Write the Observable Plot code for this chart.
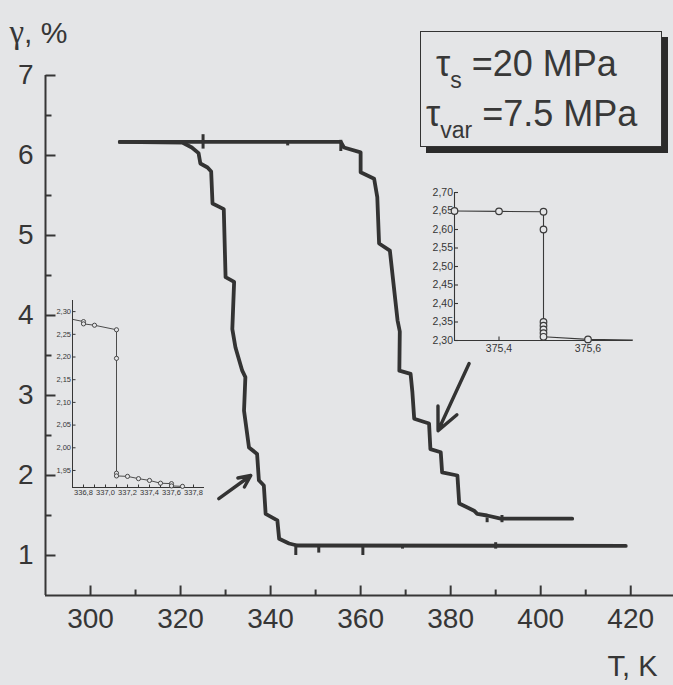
<!DOCTYPE html>
<html><head><meta charset="utf-8">
<script src="https://cdn.jsdelivr.net/npm/d3@7"></script>
<script src="https://cdn.jsdelivr.net/npm/@observablehq/plot@0.6"></script>
<style>
html,body{margin:0;padding:0;background:#e4e5e7;}
#wrap{position:relative;width:673px;height:685px;overflow:hidden;background:#e4e5e7;}
#wrap svg{position:absolute;left:0;top:0;}
.legend{position:absolute;left:420px;top:31px;width:242px;height:116px;box-sizing:border-box;border:1.5px solid #333;box-shadow:6px 6px 0 #2b2b2b;font-family:"Liberation Sans",Arial,sans-serif;color:#383838;background:#e4e5e7;}
.legend .l{position:absolute;white-space:nowrap;font-size:36px;line-height:1;}
.legend sub{font-size:23px;vertical-align:baseline;position:relative;top:12px;}
</style></head><body><div id="wrap"></div>
<script>
const ink = "#363636";

// main axes ticks
const xMajor = [300, 320, 340, 360, 380, 400, 420];
const xMinor = [310, 330, 350, 370, 390, 410];
const yMajor = [1, 2, 3, 4, 5, 6, 7];
const yMinor = [1.5, 2.5, 3.5, 4.5, 5.5, 6.5];

// curve 1 (lower-temperature transition)
const lowT = [306.5, 320.5, 322.5, 324.0, 324.4, 326.0, 326.8, 327.1, 329.6, 330.0, 331.9, 331.5, 332.2, 333.7, 334.4, 334.1, 335.2, 337.0, 337.4, 338.5, 338.9, 341.5, 341.9, 344.1, 345.9, 418.9];
const lowG = [6.17, 6.16, 6.10, 6.03, 5.90, 5.85, 5.80, 5.40, 5.33, 4.48, 4.42, 3.83, 3.60, 3.31, 3.23, 2.81, 2.35, 2.27, 1.94, 1.875, 1.52, 1.44, 1.21, 1.15, 1.125, 1.12];

// curve 2 (higher-temperature transition)
const highT = [306.5, 355.6, 356.3, 360.0, 360.0, 363.0, 363.7, 364.1, 366.5, 367.2, 368.2, 368.7, 368.6, 371.1, 371.5, 371.9, 375.2, 375.5, 377.8, 378.1, 381.5, 381.9, 385.2, 385.9, 388.1, 391.1, 407.0];
const highG = [6.17, 6.17, 6.10, 6.04, 5.79, 5.71, 5.48, 4.90, 4.81, 4.45, 3.94, 3.80, 3.31, 3.27, 3.04, 2.71, 2.65, 2.33, 2.29, 2.04, 2.00, 1.65, 1.56, 1.52, 1.50, 1.46, 1.46];

// small spikes on the traces
const glitchT  = [325.0, 343.8, 355.6, 345.6, 350.7, 360.5, 369.3, 390.0, 388.1, 391.4];
const glitchLo = [6.08, 6.12, 6.05, 1.00, 1.03, 1.00, 1.08, 1.08, 1.41, 1.41];
const glitchHi = [6.26, 6.18, 6.19, 1.14, 1.13, 1.13, 1.13, 1.16, 1.47, 1.50];

// arrows pointing at the zoomed jumps
const arrowT1 = [328.5, 384.1];
const arrowG1 = [1.71, 3.40];
const arrowT2 = [335.6, 377.2];
const arrowG2 = [2.00, 2.56];

// left inset (around 337 K)
const liT = [336.7, 336.8, 336.8, 336.9, 337.1, 337.1, 337.1, 337.1, 337.2, 337.3, 337.4, 337.5, 337.6, 337.6, 337.7];
const liG = [2.283, 2.278, 2.273, 2.270, 2.260, 2.197, 1.944, 1.938, 1.937, 1.932, 1.928, 1.922, 1.921, 1.916, 1.915];
const liXTicks = [336.8, 336.9, 337.0, 337.1, 337.2, 337.3, 337.4, 337.5, 337.6, 337.7, 337.8];
const liXLabels = [336.8, 337.0, 337.2, 337.4, 337.6, 337.8];
const liYTicks = [1.95, 2.00, 2.05, 2.10, 2.15, 2.20, 2.25, 2.30];

// right inset (around 375.5 K)
const riT = [375.3, 375.4, 375.5, 375.5, 375.5, 375.5, 375.5, 375.5, 375.5, 375.6, 375.7];
const riG = [2.650, 2.649, 2.648, 2.600, 2.350, 2.340, 2.330, 2.320, 2.310, 2.303, 2.301];
const riXTicks = [375.4, 375.6];
const riYTicks = [2.30, 2.35, 2.40, 2.45, 2.50, 2.55, 2.60, 2.65, 2.70];

const zip = (T, G) => T.map((t, i) => ({T: t, g: G[i]}));
const curve1 = zip(lowT, lowG);
const curve2 = zip(highT, highG);
const glitches = glitchT.map((t, i) => ({T: t, lo: glitchLo[i], hi: glitchHi[i]}));
const arrows = arrowT1.map((t, i) => ({x1: t, y1: arrowG1[i], x2: arrowT2[i], y2: arrowG2[i]}));
const leftInset = zip(liT, liG);
const rightInset = zip(riT, riG);
const comma = f => d => d3.format(f)(d).replace(".", ",");
const font = "Liberation Sans, Arial, sans-serif";
const W = 673, H = 685;

// inward tick marks of a given pixel length, converted to the data units of each panel
function inwardTicks(cfg, xs, ys, lenX, lenY, sw) {
  const fw = W - cfg.l - cfg.r, fh = H - cfg.t - cfg.b;
  const [x0, x1] = cfg.x, [y0, y1] = cfg.y;
  const dy = lenX * (y1 - y0) / fh;
  const dx = lenY * (x1 - x0) / fw;
  const xt = xs.map(v => ({a: v, b: v, c: y0, d: y0 + dy}));
  const yt = ys.map(v => ({a: x0, b: x0 + dx, c: v, d: v}));
  return Plot.link(xt.concat(yt), {x1: "a", x2: "b", y1: "c", y2: "d", stroke: ink, strokeWidth: sw, strokeLinecap: "butt"});
}
function frameOpts(cfg) {
  return {
    width: W, height: H,
    marginLeft: cfg.l, marginRight: cfg.r, marginTop: cfg.t, marginBottom: cfg.b,
    x: {domain: cfg.x}, y: {domain: cfg.y},
    style: {background: "transparent", fontFamily: font, color: ink, overflow: "visible"}
  };
}

const mainCfg = {l: 45, r: 0, t: 75, b: 90, x: [290, 429.5], y: [0.5, 7]};
const main = Plot.plot({
  ...frameOpts(mainCfg),
  marks: [
    Plot.ruleX([mainCfg.x[0]], {stroke: ink, strokeWidth: 2}),
    Plot.ruleY([mainCfg.y[0]], {stroke: ink, strokeWidth: 2}),
    inwardTicks(mainCfg, xMajor, yMajor, 10, 10, 2),
    inwardTicks(mainCfg, xMinor, yMinor, 6, 6, 2),
    Plot.axisX({ticks: xMajor, tickSize: 0, tickPadding: 13, fontSize: 28, fill: ink, tickFormat: d => String(d), label: null}),
    Plot.axisY({ticks: yMajor, tickSize: 0, tickPadding: 12, fontSize: 28, fill: ink, tickFormat: d => String(d), label: null}),
    Plot.line(curve1, {x: "T", y: "g", stroke: "#333", strokeWidth: 3.8, strokeLinejoin: "round", strokeLinecap: "round"}),
    Plot.line(curve2, {x: "T", y: "g", stroke: "#333", strokeWidth: 3.8, strokeLinejoin: "round", strokeLinecap: "round"}),
    Plot.ruleX(glitches, {x: "T", y1: "lo", y2: "hi", stroke: "#333", strokeWidth: 3}),
    Plot.arrow(arrows, {x1: "x1", y1: "y1", x2: "x2", y2: "y2", stroke: "#333", strokeWidth: 3.4, headLength: 14, headAngle: 50}),
    Plot.text(["γ, %"], {frameAnchor: "top-left", dx: -36, dy: -33, textAnchor: "start", lineAnchor: "bottom", fontSize: 30, fill: ink}),
    Plot.text(["T, K"], {frameAnchor: "bottom-right", dx: -16, dy: 80, textAnchor: "end", lineAnchor: "bottom", fontSize: 29, fill: ink})
  ]
});

const liCfg = {l: 72, r: 469, t: 300, b: 198, x: [336.7, 337.9], y: [1.9125, 2.3245]};
const inset1 = Plot.plot({
  ...frameOpts(liCfg),
  marks: [
    Plot.ruleX([liCfg.x[0]], {stroke: ink, strokeWidth: 1}),
    Plot.ruleY([liCfg.y[0]], {stroke: ink, strokeWidth: 1}),
    inwardTicks(liCfg, liXTicks, liYTicks, 3, 3, 1),
    Plot.axisX({ticks: liXLabels, tickSize: 0, tickPadding: 2, fontSize: 7.5, fill: ink, tickFormat: comma(".1f"), label: null}),
    Plot.axisY({ticks: liYTicks, tickSize: 0, tickPadding: 1.5, fontSize: 7.5, fill: ink, tickFormat: comma(".2f"), label: null}),
    Plot.line(leftInset, {x: "T", y: "g", stroke: "#3a3a3a", strokeWidth: 0.9}),
    Plot.dot(leftInset.slice(1), {x: "T", y: "g", r: 2.1, stroke: "#3a3a3a", strokeWidth: 0.9, fill: "#e4e5e7"})
  ]
});

const riCfg = {l: 454, r: 41, t: 192, b: 345, x: [375.3, 375.7], y: [2.30, 2.70]};
const inset2 = Plot.plot({
  ...frameOpts(riCfg),
  marks: [
    Plot.ruleX([riCfg.x[0]], {stroke: ink, strokeWidth: 1.1}),
    Plot.ruleY([riCfg.y[0]], {stroke: ink, strokeWidth: 1.1}),
    inwardTicks(riCfg, riXTicks, riYTicks, 4, 3.5, 1.1),
    Plot.axisX({ticks: riXTicks, tickSize: 0, tickPadding: 4, fontSize: 10.5, fill: ink, tickFormat: comma(".1f"), label: null}),
    Plot.axisY({ticks: riYTicks, tickSize: 0, tickPadding: 1.5, fontSize: 10.5, fill: ink, tickFormat: comma(".2f"), label: null}),
    Plot.line(rightInset, {x: "T", y: "g", stroke: "#3a3a3a", strokeWidth: 1.1}),
    Plot.dot(rightInset.filter(d => d.T < 375.65), {x: "T", y: "g", r: 3.3, stroke: "#3a3a3a", strokeWidth: 1.2, fill: "#e4e5e7"})
  ]
});

const wrap = document.getElementById("wrap");
wrap.append(main, inset1, inset2);

// serif gamma like the original typesetting
d3.select(main).selectAll("text").filter(function() { return this.textContent === "γ, %"; })
  .each(function() {
    const t = d3.select(this);
    const tspan = t.select("tspan").empty() ? t : t.select("tspan");
    tspan.text("");
    tspan.append("tspan").attr("font-family", "Liberation Serif, Times New Roman, serif").attr("font-size", 33).text("γ");
    tspan.append("tspan").text(", %");
  });

const legend = document.createElement("div");
legend.className = "legend";
legend.innerHTML = '<div class="l" style="left:15px;top:14px">τ<sub>s</sub> =20 MPa</div>' +
                   '<div class="l" style="left:5px;top:64px">τ<sub>var</sub> =7.5 MPa</div>';
wrap.append(legend);
</script></body></html>
